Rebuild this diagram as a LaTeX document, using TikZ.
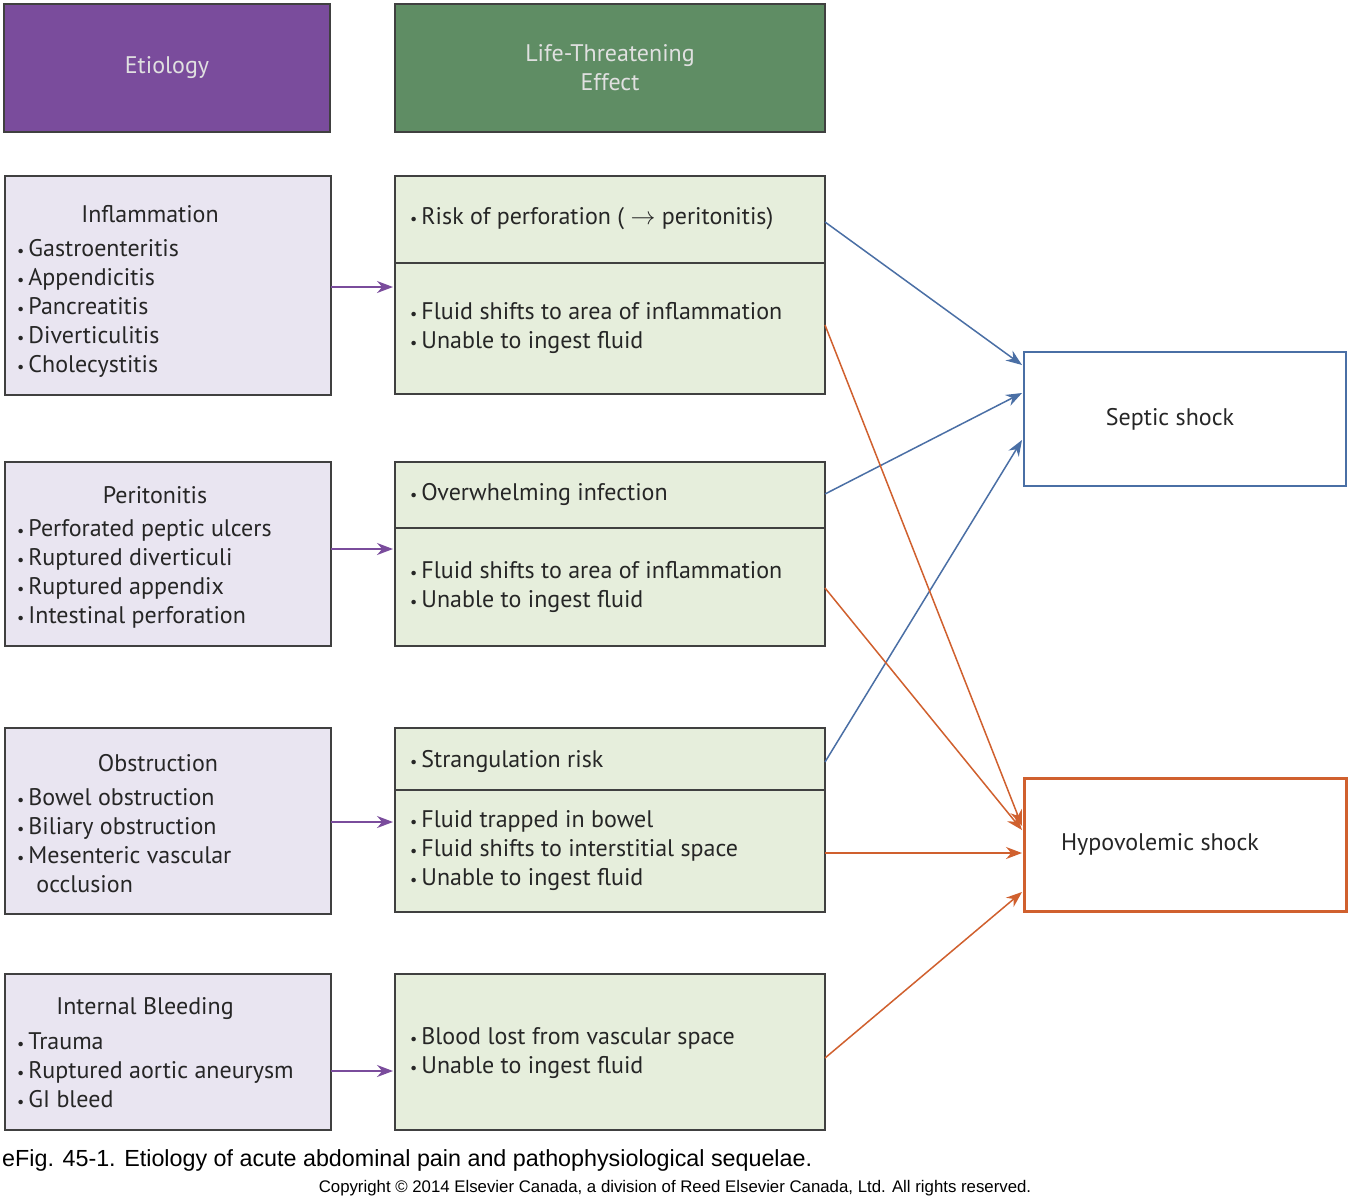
\documentclass[tikz,border=0pt]{standalone}
\usepackage{fontspec}
\setmainfont{PT Sans}
\newfontfamily\capfont{Liberation Sans}
\usetikzlibrary{arrows.meta}
\definecolor{hpurple}{HTML}{7A4C9C}
\definecolor{hgreen}{HTML}{5F8D64}
\definecolor{lpurple}{HTML}{E9E5F1}
\definecolor{lgreen}{HTML}{E6EEDC}
\definecolor{bblue}{HTML}{4A6FA5}
\definecolor{borange}{HTML}{D0602E}
\definecolor{aline}{HTML}{7A4C9C}
\newcommand{\bul}{{\fontsize{16}{16}\selectfont\textbullet}\,}
\begin{document}
\begin{tikzpicture}[x=1pt,y=-1pt,
  box/.style={draw=black!75,line width=1.5pt},
  txt/.style={font=\fontsize{24}{29}\selectfont,anchor=west,align=left,inner sep=0pt,text=black!85},
  htxt/.style={font=\fontsize{24}{29}\selectfont,align=center,inner sep=0pt,text=white!88!black},
  parr/.style={-{Stealth[length=16pt,width=12pt]},draw=aline,line width=1.5pt},
  barr/.style={-{Stealth[length=16pt,width=12pt]},draw=bblue,line width=1.5pt},
  oarr/.style={-{Stealth[length=16pt,width=12pt]},draw=borange,line width=1.5pt}]
\useasboundingbox (0,0) rectangle (1351,1200);
\fill[white] (0,0) rectangle (1351,1200);
% headers
\draw[box,fill=hpurple] (4,4) rectangle (330,132);
\node[htxt] (h1) at (167,68) {Etiology};
\draw[box,fill=hgreen] (395,4) rectangle (825,132);
\node[htxt] (h2) at (610,68) {Life-Threatening\\Effect};
% left boxes
\draw[box,fill=lpurple] (5,176) rectangle (331,395);
\coordinate (L1) at (331,287);
\node[txt,anchor=center] at (150,214) {Inflammation};
\node[txt] at (17,308) {\bul Gastroenteritis\\\bul Appendicitis\\\bul Pancreatitis\\\bul Diverticulitis\\\bul Cholecystitis};
\draw[box,fill=lpurple] (5,462) rectangle (331,646);
\coordinate (L2) at (331,549);
\node[txt,anchor=center] at (155,495) {Peritonitis};
\node[txt] at (17,574) {\bul Perforated peptic ulcers\\\bul Ruptured diverticuli\\\bul Ruptured appendix\\\bul Intestinal perforation};
\draw[box,fill=lpurple] (5,728) rectangle (331,914);
\coordinate (L3) at (331,822);
\node[txt,anchor=center] at (158,763) {Obstruction};
\node[txt] at (17,841) {\bul Bowel obstruction\\\bul Biliary obstruction\\\bul Mesenteric vascular\\\ \ \ occlusion};
\draw[box,fill=lpurple] (5,974) rectangle (331,1130);
\coordinate (L4) at (331,1071);
\node[txt,anchor=center] at (145,1009) {Internal Bleeding};
\node[txt] at (17,1070) {\bul Trauma\\\bul Ruptured aortic aneurysm\\\bul GI bleed};
% right boxes
\draw[box,fill=lgreen] (395,176) rectangle (825,394);
\draw[box] (395,263) -- (825,263);
\node[txt] (r1a) at (410,219) {\bul Risk of perforation ( $\rightarrow$ peritonitis)};
\node[txt] (r1b) at (410,328) {\bul Fluid shifts to area of inflammation\\\bul Unable to ingest fluid};
\draw[box,fill=lgreen] (395,462) rectangle (825,646);
\draw[box] (395,528) -- (825,528);
\node[txt] (r2a) at (410,494) {\bul Overwhelming infection};
\node[txt] (r2b) at (410,587) {\bul Fluid shifts to area of inflammation\\\bul Unable to ingest fluid};
\draw[box,fill=lgreen] (395,728) rectangle (825,912);
\draw[box] (395,790) -- (825,790);
\node[txt] (r3a) at (410,761) {\bul Strangulation risk};
\node[txt] (r3b) at (410,851) {\bul Fluid trapped in bowel\\\bul Fluid shifts to interstitial space\\\bul Unable to ingest fluid};
\draw[box,fill=lgreen] (395,974) rectangle (825,1130);
\node[txt] (r4) at (410,1053) {\bul Blood lost from vascular space\\\bul Unable to ingest fluid};
% outcome boxes
\draw[draw=bblue,line width=2.2pt,fill=white] (1024,352) rectangle (1346,486);
\node[txt,anchor=center] (sep) at (1170,419) {Septic shock};
\draw[draw=borange,line width=3pt,fill=white] (1024,778) rectangle (1346,911);
\node[txt,anchor=center] (hyp) at (1160,844) {Hypovolemic shock};
% purple arrows
\draw[parr] (L1) -- (393,287);
\draw[parr] (L2) -- (393,549);
\draw[parr] (L3) -- (393,822);
\draw[parr] (L4) -- (393,1071);
% blue arrows
\coordinate (b1) at (825,222); \coordinate (b2) at (825,494); \coordinate (b3) at (825,762);
\coordinate (s1) at (1022,365); \coordinate (s2) at (1022,393); \coordinate (s3) at (1022,440);
\draw[barr] (b1) -- (s1);
\draw[barr] (b2) -- (s2);
\draw[barr] (b3) -- (s3);
% orange arrows
\coordinate (o1) at (825,325); \coordinate (o2) at (825,588); \coordinate (o3) at (825,853); \coordinate (o4) at (825,1058);
\coordinate (t1) at (1022,826); \coordinate (t2) at (1022,830); \coordinate (t3) at (1022,853); \coordinate (t4) at (1022,892);
\draw[oarr] (o1) -- (t1);
\draw[oarr] (o2) -- (t2);
\draw[oarr] (o3) -- (t3);
\draw[oarr] (o4) -- (t4);
% caption
\node[anchor=west,inner sep=0pt,font=\capfont\fontsize{23.3}{24}\selectfont] (cap) at (2,1160) {eFig. 45-1. Etiology of acute abdominal pain and pathophysiological sequelae.};
\node[inner sep=0pt,font=\capfont\fontsize{16.8}{18}\selectfont] (copy) at (675,1188) {Copyright © 2014 Elsevier Canada, a division of Reed Elsevier Canada, Ltd. All rights reserved.};
\end{tikzpicture}
\end{document}
